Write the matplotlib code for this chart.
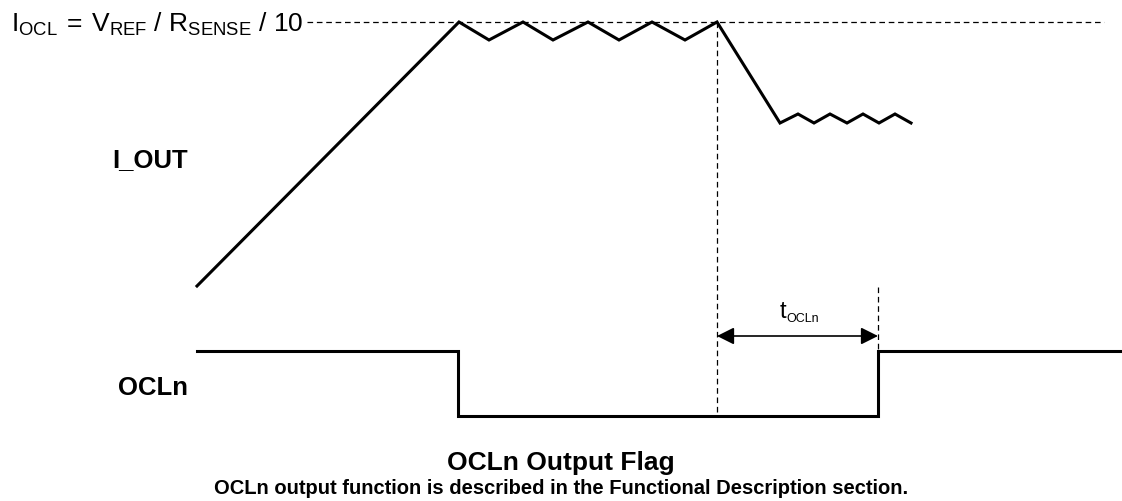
import matplotlib
matplotlib.use("Agg")
import matplotlib.pyplot as plt

plt.rcParams['font.family'] = ['Liberation Sans', 'DejaVu Sans']
plt.rcParams['mathtext.fontset'] = 'custom'
plt.rcParams['mathtext.rm'] = 'Liberation Sans'
plt.rcParams['mathtext.it'] = 'Liberation Sans'
plt.rcParams['mathtext.bf'] = 'Liberation Sans:bold'

# Waveform data (time axis, signal level), diagram units = pixels of the figure
iout_t = [197, 459, 489, 523, 553, 588, 619, 652, 685, 717,
          780, 798, 814, 830, 847, 863, 879, 895, 911]
iout_y = [287, 23, 41, 23, 41, 23, 41, 23, 41, 23,
          124, 115, 124, 115, 124, 115, 124, 115, 124]

ocl_t = [197, 458, 458, 878, 878, 1122]
ocl_y = [352, 352, 417, 417, 352, 352]

limit_level = 23
limit_span = (307, 1104)
trip_time = 717
release_time = 878
arrow_level = 337

fig = plt.figure(figsize=(11.22, 5.02), dpi=100)
ax = fig.add_axes([0, 0, 1, 1])
ax.set_xlim(0, 1122)
ax.set_ylim(502, 0)
ax.axis('off')

# current limit reference line
ax.plot(limit_span, [limit_level, limit_level], color='black', lw=0.9,
        linestyle=(0, (4.5, 3)))
ax.text(11, 32, r'$\mathregular{I_{OCL}\:=\:V_{REF}\ /\ R_{SENSE}\ /\ 10}$',
        fontsize=19, va='baseline', ha='left')

# signals
ax.plot(iout_t, iout_y, color='black', lw=2.2, solid_joinstyle='miter')
ax.plot(ocl_t, ocl_y, color='black', lw=2.2, solid_joinstyle='miter')

# timing markers
ax.plot([trip_time, trip_time], [limit_level, 417], color='black', lw=0.9,
        linestyle=(0, (4.5, 3)))
ax.plot([release_time, release_time], [288, 352], color='black', lw=0.9,
        linestyle=(0, (4.5, 3)))
ax.annotate('', xy=(release_time, arrow_level), xytext=(trip_time, arrow_level),
            arrowprops=dict(arrowstyle='<|-|>', color='black', lw=1.2,
                            mutation_scale=26, shrinkA=0, shrinkB=0))
ax.text(786, 318, 't', fontsize=17, ha='right', va='baseline')
ax.text(786, 322, 'OCLn', fontsize=9, ha='left', va='baseline')

# labels
ax.text(188, 167, 'I_OUT', fontsize=18.5, fontweight='bold', ha='right', va='baseline')
ax.text(188, 395, 'OCLn', fontsize=18.5, fontweight='bold', ha='right', va='baseline')

ax.text(561, 470, 'OCLn Output Flag', fontsize=19, fontweight='bold',
        ha='center', va='baseline')
ax.text(561, 494, 'OCLn output function is described in the Functional Description section.',
        fontsize=14.5, fontweight='bold', ha='center', va='baseline')

fig.savefig('out.png', dpi=100)
